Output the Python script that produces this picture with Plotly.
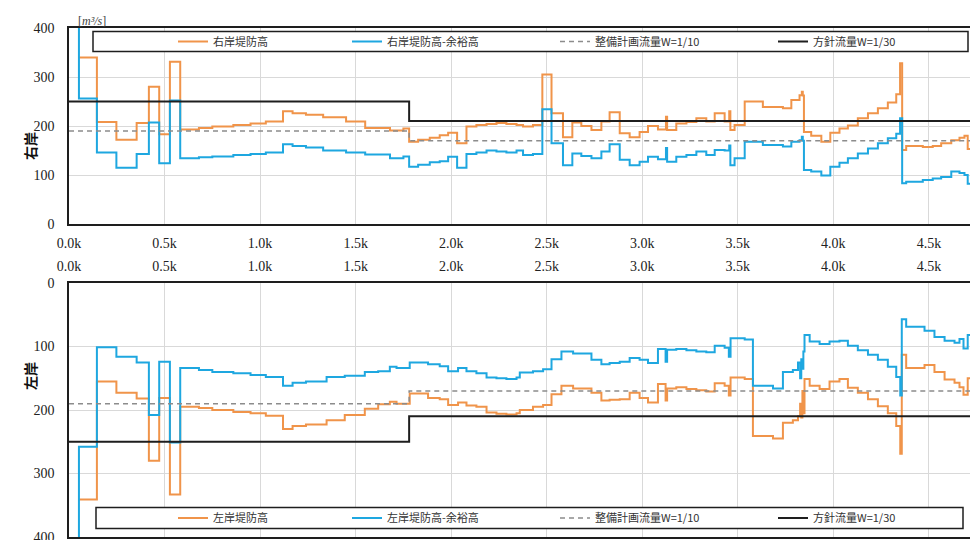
import plotly.graph_objects as go

# ---------------- data (distance in km, discharge in m3/s) ----------------
# right bank (top panel)
R_LEVEE_X = [0.050, 0.146, 0.248, 0.354, 0.418, 0.472, 0.528, 0.582, 0.680, 0.750,
             0.860, 0.950, 1.030, 1.120, 1.170, 1.240, 1.330, 1.450, 1.550, 1.680,
             1.750, 1.780, 1.827, 1.888, 1.940, 1.984, 2.031, 2.080, 2.132, 2.185,
             2.237, 2.289, 2.342, 2.376, 2.428, 2.477, 2.525, 2.585, 2.634, 2.681,
             2.734, 2.786, 2.829, 2.882, 2.934, 2.986, 3.030, 3.082, 3.124, 3.130,
             3.178, 3.231, 3.283, 3.335, 3.379, 3.431, 3.455, 3.461, 3.483, 3.536,
             3.631, 3.736, 3.780, 3.823, 3.835, 3.840, 3.846, 3.884, 3.937, 3.984,
             4.032, 4.076, 4.128, 4.181, 4.233, 4.285, 4.329, 4.349, 4.360, 4.381,
             4.468, 4.520, 4.564, 4.617, 4.660, 4.686, 4.703, 4.750]
R_LEVEE_Y = [340, 208, 172, 206, 280, 183, 331, 193, 196, 199,
             202, 205, 209, 230, 226, 223, 218, 209, 196, 191,
             195, 168, 172, 176, 181, 186, 165, 199, 202, 204,
             206, 204, 202, 199, 202, 305, 226, 177, 207, 200,
             192, 209, 228, 185, 177, 188, 200, 193, 219, 192,
             205, 208, 216, 209, 226, 209, 230, 192, 202, 250,
             239, 236, 253, 263, 270, 262, 188, 180, 168, 186,
             195, 201, 216, 226, 236, 248, 265, 328, 151, 159,
             157, 159, 165, 171, 176, 180, 153, 153]
R_FREE_X = [0.050, 0.052, 0.146, 0.248, 0.354, 0.418, 0.472, 0.528, 0.582, 0.680,
            0.750, 0.860, 0.950, 1.030, 1.120, 1.170, 1.240, 1.330, 1.450, 1.550,
            1.680, 1.750, 1.780, 1.827, 1.888, 1.940, 1.984, 2.031, 2.080, 2.132,
            2.185, 2.237, 2.289, 2.342, 2.376, 2.428, 2.477, 2.525, 2.585, 2.634,
            2.681, 2.734, 2.786, 2.829, 2.882, 2.934, 2.986, 3.030, 3.082, 3.124,
            3.130, 3.178, 3.231, 3.283, 3.335, 3.379, 3.431, 3.455, 3.461, 3.483,
            3.536, 3.631, 3.736, 3.780, 3.823, 3.835, 3.840, 3.846, 3.884, 3.937,
            3.984, 4.032, 4.076, 4.128, 4.181, 4.233, 4.285, 4.329, 4.349, 4.360,
            4.381, 4.468, 4.520, 4.564, 4.617, 4.660, 4.686, 4.703, 4.750]
R_FREE_Y = [600, 256, 146, 115, 143, 207, 124, 252, 134, 136,
            138, 141, 143, 146, 163, 159, 156, 150, 146, 142,
            134, 138, 117, 121, 126, 128, 137, 115, 143, 146,
            150, 148, 146, 150, 141, 143, 234, 165, 120, 144,
            139, 134, 148, 163, 131, 120, 127, 137, 132, 155,
            127, 137, 141, 148, 141, 151, 150, 160, 120, 134,
            168, 161, 158, 168, 171, 178, 170, 110, 107, 99,
            117, 125, 134, 144, 154, 165, 175, 184, 216, 83,
            86, 90, 93, 96, 107, 104, 100, 82, 82]

# left bank (bottom panel)
L_LEVEE_X = [0.050, 0.146, 0.248, 0.354, 0.418, 0.472, 0.528, 0.582, 0.680, 0.750,
             0.860, 0.950, 1.030, 1.120, 1.170, 1.240, 1.348, 1.443, 1.548, 1.618,
             1.679, 1.714, 1.783, 1.879, 1.940, 1.984, 2.036, 2.080, 2.132, 2.185,
             2.237, 2.289, 2.342, 2.359, 2.428, 2.481, 2.525, 2.577, 2.638, 2.734,
             2.786, 2.829, 2.882, 2.934, 2.986, 3.030, 3.082, 3.122, 3.130, 3.178,
             3.231, 3.283, 3.335, 3.379, 3.431, 3.453, 3.462, 3.536, 3.579, 3.684,
             3.736, 3.788, 3.815, 3.826, 3.832, 3.838, 3.843, 3.849, 3.876, 3.928,
             3.980, 4.032, 4.076, 4.128, 4.181, 4.233, 4.285, 4.329, 4.350, 4.358,
             4.381, 4.477, 4.529, 4.582, 4.634, 4.660, 4.681, 4.703, 4.750]
L_LEVEE_Y = [341, 155, 173, 182, 280, 181, 333, 195, 197, 200,
             203, 205, 209, 230, 225, 223, 216, 208, 198, 191,
             187, 190, 174, 181, 183, 192, 188, 193, 195, 204,
             206, 207, 205, 200, 195, 192, 175, 162, 166, 173,
             185, 184, 183, 173, 181, 188, 159, 185, 166, 164,
             167, 169, 171, 158, 162, 177, 149, 151, 241, 245,
             220, 216, 210, 190, 212, 170, 205, 151, 162, 167,
             155, 151, 165, 173, 183, 194, 205, 225, 269, 113,
             134, 129, 140, 152, 157, 164, 176, 150, 150]
L_FREE_X = [0.050, 0.052, 0.146, 0.248, 0.354, 0.418, 0.472, 0.528, 0.582, 0.680,
            0.750, 0.860, 0.950, 1.030, 1.120, 1.170, 1.240, 1.348, 1.443, 1.548,
            1.618, 1.679, 1.714, 1.783, 1.879, 1.940, 1.984, 2.036, 2.080, 2.132,
            2.185, 2.237, 2.289, 2.342, 2.359, 2.428, 2.481, 2.525, 2.577, 2.638,
            2.734, 2.786, 2.829, 2.882, 2.934, 2.986, 3.030, 3.082, 3.122, 3.130,
            3.178, 3.231, 3.283, 3.335, 3.379, 3.431, 3.453, 3.462, 3.536, 3.579,
            3.684, 3.736, 3.788, 3.815, 3.826, 3.832, 3.838, 3.843, 3.849, 3.876,
            3.928, 3.980, 4.032, 4.076, 4.128, 4.181, 4.233, 4.285, 4.329, 4.350,
            4.358, 4.381, 4.477, 4.529, 4.582, 4.634, 4.660, 4.681, 4.703, 4.750]
L_FREE_Y = [600, 258, 101, 116, 125, 208, 124, 251, 134, 137,
            140, 142, 145, 148, 162, 157, 155, 148, 146, 140,
            139, 132, 134, 125, 128, 131, 139, 134, 139, 142,
            149, 150, 151, 149, 141, 139, 136, 120, 108, 111,
            121, 128, 126, 124, 118, 121, 126, 104, 124, 105,
            104, 106, 108, 109, 99, 102, 116, 87, 89, 162,
            166, 140, 137, 125, 150, 120, 135, 108, 82, 92,
            96, 92, 91, 99, 106, 113, 121, 132, 148, 177,
            57, 69, 75, 85, 91, 94, 88, 103, 82, 82]

# design flows (same for both banks)
PLAN_X = [0.0, 1.78, 4.75]
PLAN_Y = [190, 170, 170]      # 整備計画流量 W=1/10
POLICY_X = [0.0, 1.78, 4.75]
POLICY_Y = [250, 210, 210]    # 方針流量 W=1/30

X_TICKS = [0, 0.5, 1.0, 1.5, 2.0, 2.5, 3.0, 3.5, 4.0, 4.5]
X_TICK_TEXT = ["0.0k", "0.5k", "1.0k", "1.5k", "2.0k", "2.5k", "3.0k", "3.5k", "4.0k", "4.5k"]
Y_TICKS = [0, 100, 200, 300, 400]

# ---------------- styling ----------------
ORANGE = "#F0944A"
BLUE = "#1EA7E0"
GRAY = "#8C8C8C"
BLACK = "#1E1E1E"
GRID = "#D9D9D9"
SERIF = "Liberation Serif"
CJK = "Noto Sans CJK JP"

W, H = 970, 540
ML, MR, MT, MB = 69, 0, 28, 3
PW, PH = W - ML - MR, H - MT - MB


def fx(px):
    return (px - ML) / PW


def fy(py):
    return (H - MB - py) / PH


fig = go.Figure()

legend_w = [129, 163, 173, 100]


def add_set(xa, ya, leg, names, xs, ys):
    fig.add_trace(go.Scatter(x=xs[0], y=ys[0], name=names[0], mode="lines",
                             line=dict(color=ORANGE, width=2, shape="hv"),
                             xaxis=xa, yaxis=ya, legend=leg, legendrank=1,
                             legendwidth=legend_w[0]))
    fig.add_trace(go.Scatter(x=xs[1], y=ys[1], name=names[1], mode="lines",
                             line=dict(color=BLUE, width=2, shape="hv"),
                             xaxis=xa, yaxis=ya, legend=leg, legendrank=2,
                             legendwidth=legend_w[1]))
    fig.add_trace(go.Scatter(x=PLAN_X, y=PLAN_Y, name=names[2], mode="lines",
                             line=dict(color=GRAY, width=1.5, shape="hv", dash="5px,4px"),
                             xaxis=xa, yaxis=ya, legend=leg, legendrank=3,
                             legendwidth=legend_w[2]))
    fig.add_trace(go.Scatter(x=POLICY_X, y=POLICY_Y, name=names[3], mode="lines",
                             line=dict(color=BLACK, width=2, shape="hv"),
                             xaxis=xa, yaxis=ya, legend=leg, legendrank=4,
                             legendwidth=legend_w[3]))


add_set("x", "y", "legend",
        ["右岸堤防高", "右岸堤防高-余裕高", "整備計画流量W=1/10", "方針流量W=1/30"],
        [R_LEVEE_X, R_FREE_X], [R_LEVEE_Y, R_FREE_Y])
add_set("x2", "y2", "legend2",
        ["左岸堤防高", "左岸堤防高-余裕高", "整備計画流量W=1/10", "方針流量W=1/30"],
        [L_LEVEE_X, L_FREE_X], [L_LEVEE_Y, L_FREE_Y])

XR = [0, 4.715]
tickfont = dict(family=SERIF, size=14, color="#222")
xcommon = dict(range=XR, tickvals=X_TICKS, ticktext=X_TICK_TEXT, showgrid=True,
               gridcolor=GRID, gridwidth=1, showline=True, linecolor=BLACK,
               linewidth=1.5, mirror=True, ticks="", zeroline=False,
               tickfont=tickfont, automargin=False)
ycommon = dict(tickvals=Y_TICKS, showgrid=True, gridcolor=GRID, gridwidth=1,
               showline=True, linecolor=BLACK, linewidth=1.5, mirror=False,
               ticks="", zeroline=False, tickfont=tickfont, ticklabelstandoff=10,
               automargin=False, ticklabeloverflow="allow")

legend_common = dict(orientation="h", xanchor="left", yanchor="middle",
                     bgcolor="rgba(0,0,0,0)", borderwidth=0,
                     font=dict(family=CJK, size=11, color="#333"),
                     itemwidth=30, itemclick=False)

fig.update_layout(
    width=W, height=H,
    margin=dict(l=ML, r=MR, t=MT, b=MB, pad=0, autoexpand=False),
    paper_bgcolor="white", plot_bgcolor="white",
    xaxis=dict(domain=[0, 1], anchor="y", side="bottom", ticklabelstandoff=5, **xcommon),
    yaxis=dict(domain=[fy(224), 1], anchor="x", range=[0, 400], **ycommon),
    xaxis2=dict(domain=[0, 1], anchor="y2", side="top", ticklabelstandoff=5, **xcommon),
    yaxis2=dict(domain=[0, fy(283)], anchor="x2", range=[400, 0], **ycommon),
    legend=dict(x=fx(173), y=fy(41.5), **legend_common),
    legend2=dict(x=fx(173), y=fy(518), **legend_common),
    showlegend=True,
    shapes=[
        dict(type="rect", xref="paper", yref="paper", x0=fx(93), x1=fx(968),
             y0=fy(51.5), y1=fy(31.5), line=dict(color=BLACK, width=1.5),
             fillcolor="white", layer="above"),
        dict(type="rect", xref="paper", yref="paper", x0=fx(96), x1=fx(963),
             y0=fy(528.5), y1=fy(507.5), line=dict(color=BLACK, width=1.5),
             fillcolor="white", layer="above"),
    ],
    annotations=[
        dict(text="[<i>m³/s</i>]", xref="paper", yref="paper", x=fx(76), y=fy(12),
             showarrow=False, font=dict(family=SERIF, size=12, color="#444")),
        dict(text="<b>右岸</b>", xref="paper", yref="paper", x=fx(18), y=fy(130),
             showarrow=False, textangle=-90, font=dict(family=CJK, size=14, color="#111")),
        dict(text="<b>左岸</b>", xref="paper", yref="paper", x=fx(18), y=fy(392),
             showarrow=False, textangle=-90, font=dict(family=CJK, size=14, color="#111")),
    ],
)

fig.write_html("out.html", config={"displayModeBar": False})
